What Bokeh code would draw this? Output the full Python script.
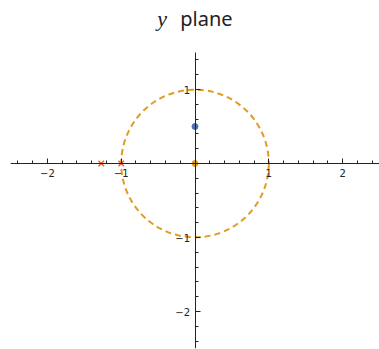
from bokeh.plotting import figure
from bokeh.models import FixedTicker, CustomJSTickFormatter, Label
from bokeh.embed import file_html
from bokeh.resources import INLINE

# Data
circle_center_x = [0.0]
circle_center_y = [0.0]
circle_radius = [1.0]

zeros_x = [0.0]          # point on the y axis (blue)
zeros_y = [0.5]
origin_x = [0.0]         # point at the origin (orange)
origin_y = [0.0]
poles_x = [-1.27, -1.0]  # crosses on the real axis
poles_y = [0.0, 0.0]

x_major_ticks = [-2, -1, 1, 2]
y_major_ticks = [-2, -1, 1]
minor_x = [round(-2.4 + 0.2 * i, 1) for i in range(25)]
minor_y = [round(-2.4 + 0.2 * i, 1) for i in range(20)]

# The frame runs to the top of the canvas so the heading sits inside it;
# the y axis itself is bounded to the plotted region.
y_axis_bounds = (-2.5, 1.5)
y_top = -2.5 + 348 * (4.0 / 296)

p = figure(width=379, height=349, x_range=(-2.5, 2.5), y_range=(-2.5, y_top),
           output_backend="svg", toolbar_location=None,
           min_border_left=10, min_border_right=0,
           min_border_top=0, min_border_bottom=1)
p.outline_line_color = None
p.grid.visible = False
p.background_fill_color = "white"
p.border_fill_color = "white"

fmt = CustomJSTickFormatter(code="""
    if (Math.abs(tick) < 1e-9) return "";
    return tick < 0 ? "\\u2212" + Math.round(-tick) : "" + Math.round(tick);
""")

for ax, majors, minors in ((p.xaxis, x_major_ticks, minor_x),
                           (p.yaxis, y_major_ticks, minor_y)):
    ax.fixed_location = 0
    ax.ticker = FixedTicker(ticks=majors, minor_ticks=minors)
    ax.formatter = fmt
    ax.axis_line_color = "#222222"
    ax.axis_line_width = 1
    ax.major_tick_in = 5
    ax.major_tick_out = 0
    ax.minor_tick_in = 3
    ax.minor_tick_out = 0
    ax.major_tick_line_color = "#222222"
    ax.minor_tick_line_color = "#222222"
    ax.major_label_text_font = "DejaVu Sans"
    ax.major_label_text_font_size = "10px"
    ax.major_label_text_color = "#222222"
    ax.major_label_standoff = 5
p.yaxis.bounds = y_axis_bounds

# Unit circle
p.circle(x=circle_center_x, y=circle_center_y, radius=circle_radius,
         fill_color=None, line_color="#E19C24", line_width=2,
         line_dash="6 4")

# Markers
p.scatter(x=poles_x, y=poles_y, marker="x", size=8, line_width=1.5,
          color="#EB6235")
p.scatter(x=origin_x, y=origin_y, marker="circle", size=6,
          color="#E19C24")
p.scatter(x=zeros_x, y=zeros_y, marker="circle", size=6,
          color="#4F72AE")

# Heading: italic y followed by "plane"
p.add_layout(Label(x=-0.51, y=1.96, text="y", text_font="Liberation Serif",
                   text_font_style="italic", text_font_size="22px",
                   text_color="#222222", text_baseline="alphabetic",
                   text_align="left"))
p.add_layout(Label(x=-0.2, y=1.96, text="plane", text_font="Noto Sans",
                   text_font_size="20px", text_color="#222222",
                   text_baseline="alphabetic", text_align="left"))

open("out.html", "w").write(file_html(p, INLINE))
